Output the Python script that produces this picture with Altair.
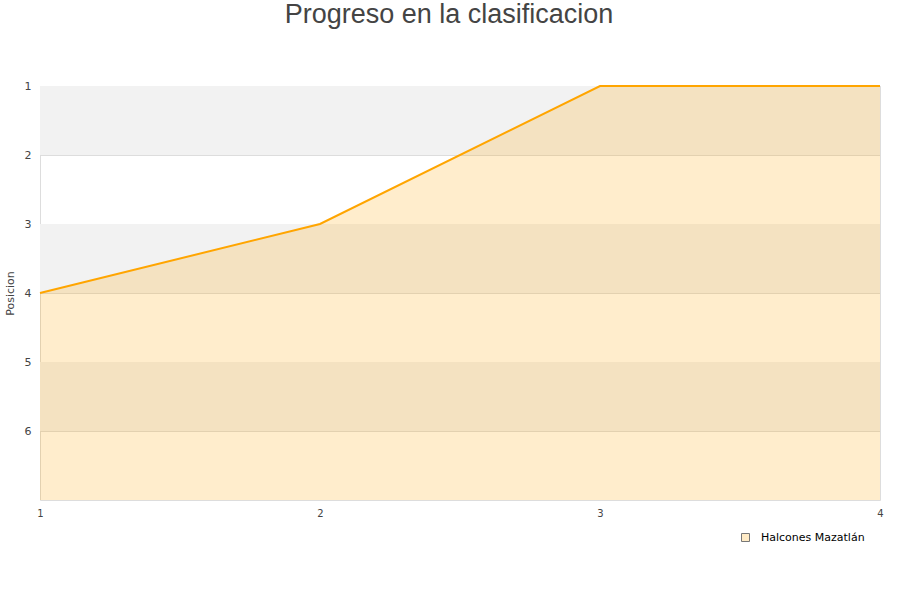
import altair as alt
import pandas as pd

# Standings progress per round
jornadas = [1, 2, 3, 4]
posiciones = [4, 3, 1, 1]
equipo = "Halcones Mazatlán"
titulo = "Progreso en la clasificacion"

# Alternating horizontal bands behind the plot
band_start = [1, 3, 5]
band_end = [2, 4, 6]

df = pd.DataFrame({"jornada": jornadas, "pos": posiciones, "equipo": [equipo] * len(jornadas)})
bands = pd.DataFrame({"y1": band_start, "y2": band_end})

W, H = 840, 414

yscale = alt.Scale(domain=[1, 7], reverse=True, nice=False, zero=False)
xscale = alt.Scale(domain=[1, 4], nice=False, zero=False)

band_layer = alt.Chart(bands).mark_rect(color="#f2f2f2").encode(
    y=alt.Y("y1:Q", scale=yscale,
            axis=alt.Axis(values=[1, 2, 3, 4, 5, 6], format="d", title="Posicion", grid=True,
                          gridColor="#dddddd", domain=False, ticks=False,
                          labelPadding=9, labelFontSize=11, labelColor="#444444",
                          labelFont="DejaVu Sans", titleFont="DejaVu Sans",
                          titleFontSize=11, titleFontWeight="normal", titleColor="#444444",
                          titleX=-30, titleY=207, titleAngle=-90, titleAlign="center",
                          titleBaseline="middle")),
    y2="y2:Q",
    x=alt.value(0),
    x2=alt.value(W),
)

area_layer = alt.Chart(df).mark_area(color="#ffa500", opacity=0.2).encode(
    x=alt.X("jornada:Q", scale=xscale,
            axis=alt.Axis(values=jornadas, title=None, grid=False, domain=False, ticks=False,
                          labelPadding=8, labelFontSize=10, labelColor="#444444",
                          labelFont="DejaVu Sans", format="d", labelFlush=False)),
    y=alt.Y("pos:Q", scale=yscale),
    y2=alt.datum(7),
)

line_layer = alt.Chart(df).mark_line(color="#ffa500", strokeWidth=2).encode(
    x=alt.X("jornada:Q", scale=xscale),
    y=alt.Y("pos:Q", scale=yscale),
)

# Series key: a single square swatch carrying the team name
key_layer = alt.Chart(df.head(1)).mark_square(opacity=1).encode(
    x=alt.value(-2000), y=alt.value(-2000),
    color=alt.Color("equipo:N",
                    scale=alt.Scale(range=["#ffebc6"]),
                    legend=alt.Legend(title=None, orient="none", legendX=700, legendY=446,
                                      symbolType="square", symbolSize=64,
                                      symbolStrokeColor="#777777",
                                      symbolStrokeWidth=1, labelOffset=10,
                                      labelFont="DejaVu Sans", labelFontSize=11,
                                      labelColor="#000000")),
)

title_layer = alt.Chart(pd.DataFrame({"t": [titulo]})).mark_text(
    fontSize=27, font="Liberation Sans", color="#444444", baseline="middle", align="center"
).encode(text="t:N", x=alt.value(409), y=alt.value(-71))

chart = alt.layer(band_layer, area_layer, line_layer, key_layer, title_layer).properties(
    width=W, height=H,
    autosize=alt.AutoSizeParams(type="none"),
    padding={"left": 40, "top": 86, "right": 20, "bottom": 100},
    background="white",
).configure_view(stroke="#dddddd", strokeWidth=1)

chart.save("out.html", embed_options={"renderer": "svg", "actions": False})
